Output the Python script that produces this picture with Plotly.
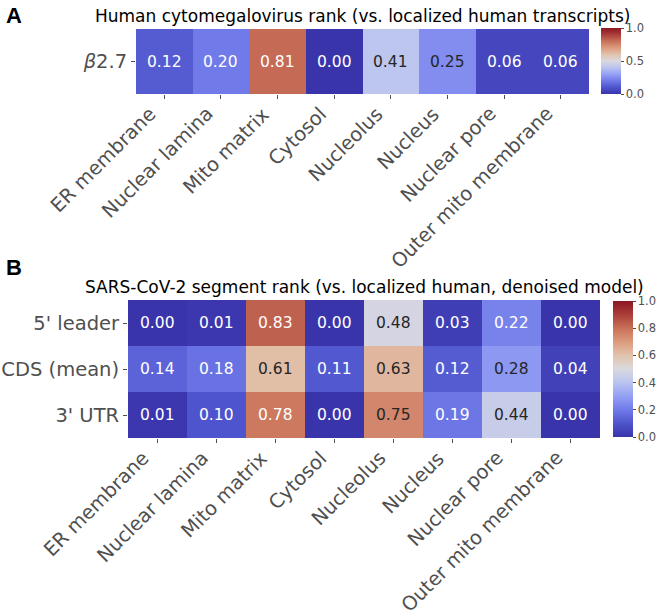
import plotly.graph_objects as go

# ---------------- data ----------------
compartments = ["ER membrane", "Nuclear lamina", "Mito matrix", "Cytosol",
                "Nucleolus", "Nucleus", "Nuclear pore", "Outer mito membrane"]

hcmv_rows = ["<i>β</i>2.7"]
hcmv_b27 = [0.12, 0.20, 0.81, 0.00, 0.41, 0.25, 0.06, 0.06]

sars_rows = ["5' leader", "CDS (mean)", "3' UTR"]
sars_leader = [0.00, 0.01, 0.83, 0.00, 0.48, 0.03, 0.22, 0.00]
sars_cds = [0.14, 0.18, 0.61, 0.11, 0.63, 0.12, 0.28, 0.04]
sars_utr = [0.01, 0.10, 0.78, 0.00, 0.75, 0.19, 0.44, 0.00]

cbar_a_ticks = [0.0, 0.5, 1.0]
cbar_b_ticks = [0.0, 0.2, 0.4, 0.6, 0.8, 1.0]

title_a = "Human cytomegalovirus rank (vs. localized human transcripts)"
title_b = "SARS-CoV-2 segment rank (vs. localized human, denoised model)"

# ---------------- style ----------------
W, H = 661, 612
FONT = "DejaVu Sans"
GRAY = "#4f4f4f"

colorscale = [
    [0.0, "rgb(58,52,170)"],
    [0.1, "rgb(78,84,205)"],
    [0.2, "rgb(112,122,232)"],
    [0.3, "rgb(148,160,245)"],
    [0.4, "rgb(186,196,240)"],
    [0.5, "rgb(218,216,222)"],
    [0.6, "rgb(225,195,172)"],
    [0.7, "rgb(220,155,125)"],
    [0.8, "rgb(200,112,88)"],
    [0.9, "rgb(170,62,58)"],
    [1.0, "rgb(140,22,34)"],
]

# pixel geometry of the two panels
A_X0, A_X1, A_Y0, A_Y1 = 136, 589, 29, 94
B_X0, B_X1, B_Y0, B_Y1 = 128, 600, 300, 438


def px_x(p):
    return p / W


def px_y(p):
    return 1 - p / H


def text_color(v):
    # light cells (middle of the diverging map) get dark text
    return "#262626" if 0.23 <= v <= 0.76 else "white"


hcmv_z = [hcmv_b27]
sars_z = [sars_leader, sars_cds, sars_utr]

fig = go.Figure()
fig.add_trace(go.Heatmap(z=hcmv_z, x=compartments, y=hcmv_rows,
                         coloraxis="coloraxis", xaxis="x", yaxis="y",
                         hoverinfo="skip"))
fig.add_trace(go.Heatmap(z=sars_z, x=compartments, y=sars_rows,
                         coloraxis="coloraxis2", xaxis="x2", yaxis="y2",
                         hoverinfo="skip"))

annotations = []
for rows, z, xr, yr in [(hcmv_rows, hcmv_z, "x", "y"), (sars_rows, sars_z, "x2", "y2")]:
    for r, row in zip(rows, z):
        for c, v in zip(compartments, row):
            annotations.append(dict(
                x=c, y=r, xref=xr, yref=yr, text=f"{v:.2f}", showarrow=False,
                font=dict(family=FONT, size=15.5, color=text_color(v))))

# rotated category labels (right/top aligned like matplotlib rotation=45, ha='right')
for xr, ybot in [("x", A_Y1), ("x2", B_Y1)]:
    for c in compartments:
        annotations.append(dict(
            x=c, y=px_y(ybot + 7), xref=xr, yref="paper", text=c,
            showarrow=False, textangle=-45, xanchor="right", yanchor="top",
            xshift=-2, borderpad=0,
            font=dict(family=FONT, size=19.5, color=GRAY)))

annotations += [
    dict(x=px_x(362.5), y=px_y(16), xref="paper", yref="paper", text=title_a,
         showarrow=False, xanchor="center", yanchor="middle",
         font=dict(family=FONT, size=17, color="black")),
    dict(x=px_x(364), y=px_y(287), xref="paper", yref="paper", text=title_b,
         showarrow=False, xanchor="center", yanchor="middle",
         font=dict(family=FONT, size=17, color="black")),
    dict(x=px_x(4), y=px_y(15), xref="paper", yref="paper", text="<b>A</b>",
         showarrow=False, xanchor="left", yanchor="middle",
         font=dict(family="Liberation Sans", size=22, color="black")),
    dict(x=px_x(4), y=px_y(267), xref="paper", yref="paper", text="<b>B</b>",
         showarrow=False, xanchor="left", yanchor="middle",
         font=dict(family="Liberation Sans", size=22, color="black")),
]

xrange_ = [-0.5, len(compartments) - 0.5]
tickfont = dict(family=FONT, size=19.5, color=GRAY)
common_x = dict(ticks="outside", ticklen=4, tickcolor=GRAY, range=xrange_,
                autorange=False, showticklabels=False, showgrid=False,
                zeroline=False, showline=False, fixedrange=True,
                automargin=False)
common_y = dict(ticks="outside", ticklen=4, tickcolor=GRAY, tickfont=tickfont,
                showgrid=False, zeroline=False, showline=False,
                fixedrange=True, autorange=False, automargin=False)

cbar_common = dict(thickness=20, xanchor="left", yanchor="top", xpad=0, ypad=0,
                   outlinewidth=0, ticks="outside", ticklen=3, tickcolor=GRAY,
                   tickfont=dict(family=FONT, size=11.5, color=GRAY),
                   lenmode="fraction")

fig.update_layout(
    width=W, height=H,
    margin=dict(l=0, r=0, t=0, b=0, autoexpand=False),
    paper_bgcolor="white", plot_bgcolor="white",
    font=dict(family=FONT),
    xaxis=dict(domain=[px_x(A_X0), px_x(A_X1)], anchor="y", **common_x),
    yaxis=dict(domain=[px_y(A_Y1), px_y(A_Y0)], anchor="x",
               range=[len(hcmv_rows) - 0.5, -0.5], **common_y),
    xaxis2=dict(domain=[px_x(B_X0), px_x(B_X1)], anchor="y2", **common_x),
    yaxis2=dict(domain=[px_y(B_Y1), px_y(B_Y0)], anchor="x2",
                range=[len(sars_rows) - 0.5, -0.5], **common_y),
    coloraxis=dict(cmin=0, cmax=1, colorscale=colorscale,
                   colorbar=dict(x=px_x(601), y=px_y(28), len=66 / H,
                                 tickvals=cbar_a_ticks,
                                 ticktext=[f"{t:.1f}" for t in cbar_a_ticks],
                                 **cbar_common)),
    coloraxis2=dict(cmin=0, cmax=1, colorscale=colorscale,
                    colorbar=dict(x=px_x(613), y=px_y(301), len=136 / H,
                                  tickvals=cbar_b_ticks,
                                  ticktext=[f"{t:.1f}" for t in cbar_b_ticks],
                                  **cbar_common)),
    annotations=annotations,
    showlegend=False,
)

fig.write_html(
    "out.html",
    config={"displayModeBar": False, "staticPlot": True},
    post_script="document.body.style.margin='0px';"
                "document.body.style.overflow='hidden';",
)
